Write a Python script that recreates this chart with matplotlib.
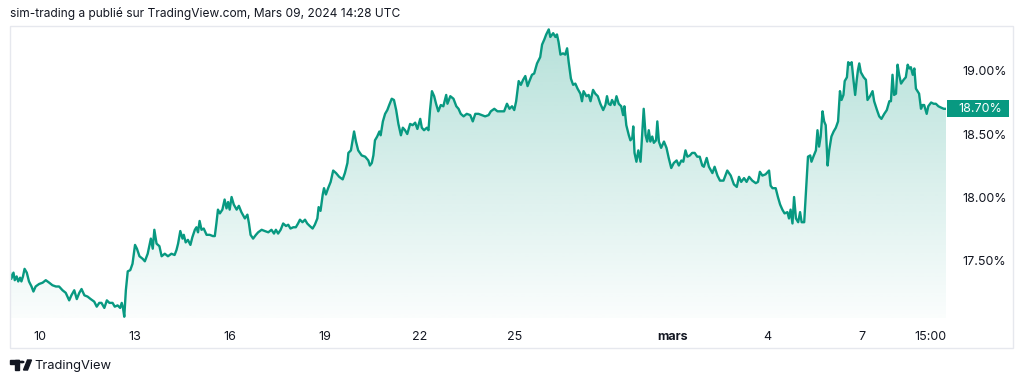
import matplotlib
matplotlib.use("Agg")
import matplotlib.pyplot as plt
import matplotlib.transforms as mtransforms
from matplotlib.patches import Rectangle, Circle, Polygon
import numpy as np

# time axis: days since Feb 10 2024 00:00
days = [
    -0.93, -0.89, -0.82, -0.78, -0.72, -0.67, -0.61, -0.57, -0.52, -0.47,
    -0.40, -0.33, -0.25, -0.19, -0.12, -0.01, 0.10, 0.20, 0.31, 0.41,
    0.52, 0.62, 0.73, 0.83, 0.94, 1.01, 1.10, 1.18, 1.26, 1.33,
    1.42, 1.52, 1.62, 1.73, 1.81, 1.89, 1.96, 2.05, 2.13, 2.21,
    2.31, 2.38, 2.47, 2.55, 2.60, 2.64, 2.68, 2.73, 2.79, 2.87,
    2.94, 3.02, 3.08, 3.16, 3.26, 3.33, 3.42, 3.52, 3.58, 3.63,
    3.70, 3.79, 3.86,
    3.96, 4.06, 4.17, 4.27, 4.33, 4.38, 4.45, 4.52, 4.56, 4.62,
    4.69, 4.77, 4.83, 4.91, 4.96, 5.01, 5.06, 5.12, 5.19, 5.28,
    5.38, 5.48, 5.54, 5.59, 5.64, 5.70, 5.78, 5.85, 5.91, 5.96,
    6.01, 6.07, 6.14, 6.23, 6.30, 6.38, 6.49, 6.57, 6.62, 6.67,
    6.75, 6.84, 6.91, 7.02, 7.12, 7.23, 7.33, 7.41, 7.47, 7.54,
    7.62, 7.70, 7.79, 7.86, 7.93, 8.02, 8.10, 8.17, 8.23, 8.31,
    8.39, 8.46, 8.54, 8.63, 8.70, 8.78, 8.82, 8.88, 8.95, 8.99,
    9.05, 9.12, 9.20, 9.28, 9.37, 9.47, 9.58,
    9.65, 9.73, 9.76, 9.84, 9.94, 10.00, 10.07, 10.18, 10.29, 10.39,
    10.44, 10.50, 10.55, 10.60, 10.67, 10.74, 10.78, 10.85, 10.92, 10.99,
    11.05, 11.13, 11.20, 11.27, 11.34, 11.42, 11.48, 11.55, 11.62, 11.71,
    11.79, 11.87, 11.94, 12.03, 12.08, 12.15, 12.24, 12.29, 12.34, 12.40,
    12.47, 12.53, 12.60, 12.68, 12.76, 12.85, 12.89, 12.98, 13.08, 13.17,
    13.24, 13.31, 13.40, 13.50, 13.61, 13.69, 13.77, 13.87, 13.98, 14.08,
    14.19, 14.26, 14.37, 14.47, 14.58, 14.68, 14.77, 14.85, 14.93, 15.00,
    15.06, 15.14, 15.21, 15.28, 15.35, 15.42, 15.48, 15.56, 15.63, 15.72,
    15.82, 15.88, 15.95, 16.01, 16.09, 16.14, 16.23, 16.30, 16.35, 16.40,
    16.46, 16.54, 16.61, 16.67, 16.72, 16.79, 16.86, 16.93, 17.00, 17.09,
    17.14, 17.19, 17.28, 17.35, 17.41, 17.49, 17.56, 17.64, 17.72, 17.81,
    17.88, 17.93, 17.98, 18.04, 18.09, 18.17, 18.23, 18.30, 18.38, 18.44,
    18.48, 18.54, 18.62, 18.67, 18.73, 18.76, 18.80, 18.86, 18.92, 18.99,
    19.09, 19.15, 19.20, 19.25, 19.30, 19.36, 19.41, 19.48, 19.52, 19.57,
    19.64, 19.73, 19.81, 19.88, 19.96, 20.04, 20.13, 20.20, 20.28, 20.34,
    20.41, 20.47, 20.55, 20.62, 20.70, 20.78, 20.86, 20.94, 20.99, 21.08,
    21.15,
    21.26, 21.33, 21.42, 21.50, 21.61, 21.73, 21.84, 21.94, 22.03, 22.10,
    22.17, 22.26, 22.34, 22.42, 22.52, 22.63, 22.70, 22.76, 22.84, 22.94,
    23.05, 23.10, 23.16, 23.26, 23.33, 23.40, 23.47, 23.54, 23.63, 23.68,
    23.73, 23.79, 23.84, 23.90, 23.97, 24.03, 24.08, 24.16, 24.22, 24.28,
    24.35, 24.39, 24.45, 24.53, 24.58, 24.63, 24.68, 24.74, 24.79, 24.84,
    24.90, 24.95, 25.02, 25.09, 25.16, 25.23, 25.29, 25.34, 25.40, 25.44,
    25.51, 25.55, 25.60, 25.66, 25.72, 25.77, 25.82, 25.86, 25.90, 25.95,
    26.04, 26.11, 26.16, 26.24, 26.32, 26.37, 26.46, 26.53, 26.60, 26.69,
    26.77, 26.85, 26.90, 26.95, 27.00, 27.06, 27.11, 27.16, 27.22, 27.30,
    27.37, 27.43, 27.48, 27.53, 27.59, 27.64, 27.69, 27.74, 27.79, 27.85,
    27.90, 27.95, 28.03, 28.08, 28.17, 28.25, 28.32, 28.40, 28.48, 28.57,
    28.64,
]

# rate in percent
rate = [
    17.40, 17.35, 17.40, 17.34, 17.37, 17.33, 17.36, 17.33, 17.37, 17.43,
    17.40, 17.33, 17.29, 17.25, 17.29, 17.31, 17.32, 17.34, 17.32, 17.30,
    17.29, 17.29, 17.26, 17.24, 17.18, 17.22, 17.26, 17.19, 17.24, 17.27,
    17.22, 17.21, 17.19, 17.17, 17.13, 17.16, 17.16, 17.12, 17.18, 17.16,
    17.16, 17.13, 17.14, 17.12, 17.16, 17.12, 17.05, 17.26, 17.41, 17.42,
    17.47, 17.62, 17.59, 17.53, 17.51, 17.49, 17.55, 17.67, 17.59, 17.74,
    17.63, 17.61, 17.53,
    17.55, 17.53, 17.55, 17.54, 17.58, 17.63, 17.73, 17.67, 17.70, 17.64,
    17.66, 17.62, 17.68, 17.74, 17.76, 17.72, 17.81, 17.74, 17.75, 17.70,
    17.70, 17.69, 17.69, 17.79, 17.90, 17.87, 17.90, 17.98, 17.91, 17.96,
    17.90, 18.00, 17.94, 17.90, 17.93, 17.88, 17.83, 17.86, 17.79, 17.70,
    17.67, 17.70, 17.72, 17.74, 17.73, 17.72, 17.74, 17.71, 17.74, 17.71,
    17.74, 17.79, 17.77, 17.78, 17.75, 17.76, 17.76, 17.79, 17.82, 17.80,
    17.82, 17.79, 17.77, 17.75, 17.78, 17.83, 17.92, 17.89, 18.02, 18.07,
    18.02, 18.07, 18.12, 18.21, 18.19, 18.16, 18.14,
    18.19, 18.27, 18.35, 18.37, 18.52, 18.44, 18.37, 18.33, 18.32, 18.29,
    18.25, 18.27, 18.33, 18.45, 18.48, 18.52, 18.49, 18.60, 18.66, 18.69,
    18.73, 18.78, 18.77, 18.69, 18.58, 18.49, 18.55, 18.53, 18.50, 18.58,
    18.57, 18.59, 18.54, 18.62, 18.55, 18.53, 18.55, 18.53, 18.69, 18.84,
    18.80, 18.74, 18.68, 18.73, 18.72, 18.81, 18.74, 18.80, 18.78, 18.72,
    18.70, 18.66, 18.64, 18.66, 18.65, 18.60, 18.66, 18.66, 18.65, 18.64,
    18.65, 18.68, 18.70, 18.68, 18.68, 18.68, 18.74, 18.70, 18.72, 18.69,
    18.76, 18.92, 18.89, 18.93, 18.96, 18.88, 18.92, 18.97, 18.98, 19.06,
    19.11, 19.21, 19.25, 19.29, 19.33, 19.27, 19.30, 19.27, 19.29, 19.23,
    19.13, 19.14, 19.13, 19.18, 19.07, 18.94, 18.89, 18.90, 18.86, 18.82,
    18.76, 18.84, 18.80, 18.81, 18.76, 18.85, 18.82, 18.80, 18.74, 18.69,
    18.73, 18.80, 18.74, 18.73, 18.77, 18.73, 18.80, 18.74, 18.72, 18.65,
    18.72, 18.57, 18.49, 18.45, 18.47, 18.56, 18.35, 18.28, 18.37, 18.28,
    18.70, 18.49, 18.44, 18.53, 18.44, 18.48, 18.43, 18.45, 18.60, 18.44,
    18.39, 18.44, 18.39, 18.31, 18.23, 18.27, 18.29, 18.25, 18.29, 18.28,
    18.37, 18.32, 18.33, 18.35, 18.35, 18.32, 18.32, 18.25, 18.24, 18.31,
    18.24,
    18.19, 18.24, 18.17, 18.13, 18.13, 18.21, 18.17, 18.10, 18.08, 18.16,
    18.12, 18.15, 18.12, 18.16, 18.13, 18.11, 18.12, 18.20, 18.17, 18.18,
    18.21, 18.09, 18.07, 18.07, 18.00, 17.94, 17.90, 17.87, 17.88, 17.83,
    17.90, 17.79, 18.00, 17.83, 17.80, 17.88, 17.80, 17.80, 18.06, 18.32,
    18.33, 18.28, 18.32, 18.37, 18.53, 18.40, 18.48, 18.68, 18.60, 18.57,
    18.25, 18.37, 18.48, 18.52, 18.55, 18.60, 18.84, 18.77, 18.81, 18.92,
    18.95, 19.07, 19.05, 19.07, 18.92, 18.81, 18.93, 19.01, 19.06, 18.99,
    18.95, 18.93, 18.77, 18.80, 18.84, 18.76, 18.69, 18.64, 18.62, 18.66,
    18.69, 18.76, 18.76, 18.97, 18.81, 18.82, 19.05, 18.97, 18.90, 18.93,
    18.95, 19.05, 19.02, 19.03, 18.97, 19.02, 18.86, 18.84, 18.82, 18.70,
    18.73, 18.73, 18.66, 18.72, 18.75, 18.74, 18.74, 18.72, 18.71, 18.70,
    18.70,
]

x_tick_pos = [0, 3, 6, 9, 12, 15, 20, 23, 26, 28.16]
x_tick_labels = ["10", "13", "16", "19", "22", "25", "mars", "4", "7", "15:00"]
y_ticks = [17.5, 18.0, 18.5, 19.0]

TITLE = "sim-trading a publié sur TradingView.com, Mars 09, 2024 14:28 UTC"
GREEN = "#089981"
TEXT = "#131722"
W, H = 1024, 384

plt.rcParams["font.family"] = ["Inter", "DejaVu Sans"]

fig = plt.figure(figsize=(W / 100, H / 100), dpi=100)
fig.patch.set_facecolor("white")


def fx(px):
    return px / W


def fy(py):
    return 1 - py / H


# panel frame
fig.patches.append(Rectangle((fx(10), fy(348)), fx(1003), (348 - 26) / H,
                             transform=fig.transFigure, facecolor="none",
                             edgecolor="#e6e8ee", linewidth=1))

ax = fig.add_axes([fx(10), fy(318), 936 / W, 292 / H])
ax.set_facecolor("none")

ymin, ymax = 17.04, 19.357
x0, x1 = days[0], days[-1]

# gradient area under the line
fill = ax.fill_between(days, rate, ymin, color="none", linewidth=0)
grad = np.zeros((256, 1, 4))
grad[..., 0] = 8 / 255
grad[..., 1] = 153 / 255
grad[..., 2] = 129 / 255
grad[:, 0, 3] = np.linspace(0.02, 0.30, 256)
im = ax.imshow(grad, extent=[x0, x1, ymin, ymax], origin="lower",
               aspect="auto", zorder=1, interpolation="bilinear")
im.set_clip_path(fill.get_paths()[0], transform=ax.transData)

ax.plot(days, rate, color=GREEN, linewidth=1.7, zorder=3,
        solid_joinstyle="round")

ax.set_xlim(x0, x1)
ax.set_ylim(ymin, ymax)

for s in ax.spines.values():
    s.set_visible(False)

ax.yaxis.tick_right()
ax.set_yticks(y_ticks)
ax.set_yticklabels([f"{v:.2f}%" for v in y_ticks])
ax.set_xticks(x_tick_pos)
ax.set_xticklabels(x_tick_labels)
ax.tick_params(axis="both", length=0, labelsize=9, labelcolor=TEXT)
ax.tick_params(axis="y", pad=12)
ax.tick_params(axis="x", pad=9)
for lbl in ax.get_xticklabels():
    if lbl.get_text() == "mars":
        lbl.set_fontweight("bold")

# last value marker on the price scale
last = rate[-1]
trans = mtransforms.blended_transform_factory(fig.transFigure, ax.transData)
box_h = 17 / 126
ax.add_patch(Rectangle((fx(947), last - box_h / 2), fx(62), box_h,
                       transform=trans, facecolor=GREEN, edgecolor="none",
                       clip_on=False, zorder=5))
ax.text(fx(958), last, f"{last:.2f}%", transform=trans, color="white",
        fontsize=9, va="center", ha="left", clip_on=False, zorder=6)

# header
fig.text(fx(10), fy(13), TITLE, fontsize=8.6, color=TEXT, va="center", ha="left")

# footer logo + name
fig.patches.append(Rectangle((fx(10), fy(363.5)), fx(9), 3.5 / H,
                             transform=fig.transFigure, color=TEXT))
fig.patches.append(Rectangle((fx(15), fy(370)), fx(4), 10 / H,
                             transform=fig.transFigure, color=TEXT))
fig.patches.append(Circle((fx(22), fy(362)), 1.8 / W,
                          transform=fig.transFigure, color=TEXT))
fig.patches.append(Polygon([(fx(23.5), fy(370)), (fx(27.5), fy(370)),
                            (fx(31.5), fy(360)), (fx(27.5), fy(360))],
                           closed=True, transform=fig.transFigure, color=TEXT))
fig.text(fx(34), fy(366), "TradingView", fontsize=9.3, color=TEXT,
         va="center", ha="left")

fig.savefig("out.png", dpi=100)
